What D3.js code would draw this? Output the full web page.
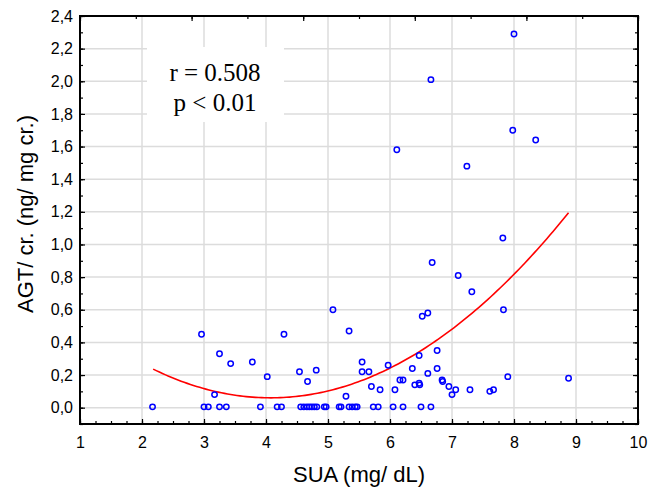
<!DOCTYPE html>
<html>
<head>
<meta charset="utf-8">
<script src="https://cdn.jsdelivr.net/npm/d3@7"></script>
<style>
  body { margin: 0; background: white; }
  svg { display: block; }
</style>
</head>
<body>
<div id="svgDiv"></div>
<script>
// SUA (mg/dL) and AGT/cr. (ng/mg cr.) pairs
var suaValues = [
  2.17, 3.00, 3.07, 3.25, 3.36, 3.91, 4.18, 4.25, 4.56, 4.61, 4.66, 4.70, 4.74, 4.78, 4.82,
  4.94, 4.97, 5.18, 5.21, 5.34, 5.39, 5.44, 5.47, 5.73, 5.81, 6.05, 6.21, 6.50, 6.66,
  2.96, 3.17, 3.25, 3.43, 3.78, 4.02, 4.29, 4.54, 4.67, 4.81, 5.08, 5.29, 5.34, 5.55, 5.55,
  5.66, 5.70, 5.84, 5.97, 6.08, 6.11, 6.16, 6.21, 6.36, 6.40, 6.47, 6.48, 6.47, 6.52, 6.61,
  6.61, 6.66, 6.68, 6.76, 6.76, 6.84, 6.85, 6.95, 7.00, 7.06, 7.10, 7.24, 7.29, 7.32, 7.61,
  7.67, 7.82, 7.83, 7.90, 7.98, 8.00, 8.35, 8.88
];
var agtValues = [
  0.005, 0.005, 0.005, 0.005, 0.005, 0.005, 0.005, 0.005, 0.005, 0.005, 0.005, 0.005, 0.005, 0.005, 0.005,
  0.005, 0.005, 0.005, 0.005, 0.005, 0.005, 0.005, 0.005, 0.005, 0.005, 0.005, 0.005, 0.005, 0.005,
  0.45, 0.08, 0.33, 0.27, 0.28, 0.19, 0.45, 0.22, 0.16, 0.23, 0.60, 0.07, 0.47, 0.28, 0.22,
  0.22, 0.13, 0.11, 0.26, 0.11, 1.58, 0.17, 0.17, 0.24, 0.14, 0.15, 0.14, 0.32, 0.56, 0.58,
  0.21, 2.01, 0.89, 0.35, 0.24, 0.17, 0.16, 0.13, 0.08, 0.11, 0.81, 1.48, 0.11, 0.71, 0.10,
  0.11, 1.04, 0.60, 0.19, 1.70, 2.29, 1.64, 0.18
];
// quadratic fit y = c0 + c1*x + c2*x^2, drawn over the SUA range
var fitCoef = [0.875, -0.400, 0.0491];
var fitRange = [2.18, 8.88];
var xTickValues = [1, 2, 3, 4, 5, 6, 7, 8, 9, 10];
var yTickValues = [0, 0.2, 0.4, 0.6, 0.8, 1.0, 1.2, 1.4, 1.6, 1.8, 2.0, 2.2, 2.4];
var statLines = ["r = 0.508", "p < 0.01"];
var xTitle = "SUA (mg/ dL)";
var yTitle = "AGT/ cr. (ng/ mg cr.)";

(function draw(){
  var width = 660, height = 488;
  var pLeft = 80, pRight = 638, pTop = 16, pBottom = 424;

  var x = d3.scaleLinear().domain([1, 10]).range([pLeft, pRight]);
  var y = d3.scaleLinear().domain([-0.1, 2.4]).range([pBottom, pTop]);
  var commaFmt = d3.formatLocale({decimal: ",", thousands: ".", grouping: [3], currency: ["", ""]}).format(".1f");

  var svg = d3.select("#svgDiv").append("svg")
              .attr("width", width)
              .attr("height", height)
              .style("font-family", "'Liberation Sans', Arial, sans-serif");

  //grid
  var grid = svg.append("g").attr("id", "gridGroup");
  grid.selectAll("line.vgrid").data(xTickValues.slice(1, -1)).enter().append("line")
      .attr("class", "vgrid")
      .attr("x1", d => x(d)).attr("x2", d => x(d))
      .attr("y1", pTop).attr("y2", pBottom)
      .attr("stroke", "#dcdcdc").attr("stroke-width", 1.5);
  grid.selectAll("line.hgrid").data(yTickValues.slice(0, -1)).enter().append("line")
      .attr("class", "hgrid")
      .attr("x1", pLeft).attr("x2", pRight)
      .attr("y1", d => y(d)).attr("y2", d => y(d))
      .attr("stroke", "#dcdcdc").attr("stroke-width", 1.5);

  //white box behind the stats text
  svg.append("rect")
     .attr("x", 147).attr("y", 47)
     .attr("width", 137).attr("height", 75)
     .attr("fill", "white");
  svg.append("g").attr("id", "statGroup")
     .selectAll("text").data(statLines).enter().append("text")
       .attr("x", 215)
       .attr("y", (d, i) => 81 + i * 30)
       .attr("text-anchor", "middle")
       .style("font-family", "'Liberation Serif', 'Times New Roman', serif")
       .style("font-size", "25px")
       .text(d => d);

  //fit curve
  var fitX = d3.range(fitRange[0], fitRange[1], 0.05).concat([fitRange[1]]);
  var line = d3.line()
               .x(d => x(d))
               .y(d => y(fitCoef[0] + fitCoef[1] * d + fitCoef[2] * d * d));
  svg.append("path")
     .datum(fitX)
     .attr("d", line)
     .attr("fill", "none")
     .attr("stroke", "#ff0000")
     .attr("stroke-width", 1.6);

  //points
  svg.append("g").attr("id", "pointGroup")
     .selectAll("circle").data(suaValues).enter().append("circle")
       .attr("cx", d => x(d))
       .attr("cy", (d, i) => y(agtValues[i]))
       .attr("r", 2.7)
       .attr("fill", "none")
       .attr("stroke", "#0000ff")
       .attr("stroke-width", 1.5);

  //axes: major ticks with labels, minor ticks without
  var minorX = d3.range(1, 10.01, 0.25);
  var minorY = d3.range(-0.1, 2.401, 0.1);
  var topScale = d3.scaleLinear().domain([0, 10]).range([pLeft, pRight]);

  svg.append("g").attr("transform", "translate(0," + pBottom + ")")
     .call(d3.axisBottom(x).tickValues(minorX).tickSize(-3).tickFormat(""));
  svg.append("g").attr("id", "xAxis").attr("transform", "translate(0," + pBottom + ")")
     .call(d3.axisBottom(x).tickValues(xTickValues).tickSize(-5).tickPadding(13).tickFormat(d3.format("d")));
  svg.append("g").attr("transform", "translate(" + pLeft + ",0)")
     .call(d3.axisLeft(y).tickValues(minorY).tickSize(-3).tickFormat(""));
  svg.append("g").attr("id", "yAxis").attr("transform", "translate(" + pLeft + ",0)")
     .call(d3.axisLeft(y).tickValues(yTickValues).tickSize(-5).tickPadding(7).tickFormat(commaFmt));
  svg.append("g").attr("transform", "translate(0," + pTop + ")")
     .call(d3.axisTop(topScale).tickValues(d3.range(0, 11)).tickSize(-3).tickFormat(""));
  svg.append("g").attr("transform", "translate(0," + pTop + ")")
     .call(d3.axisTop(topScale).tickValues(d3.range(0, 11, 2)).tickSize(-5).tickFormat(""));
  svg.append("g").attr("transform", "translate(" + pRight + ",0)")
     .call(d3.axisRight(y).tickValues(minorY).tickSize(-3).tickFormat(""));
  svg.append("g").attr("transform", "translate(" + pRight + ",0)")
     .call(d3.axisRight(y).tickValues(yTickValues).tickSize(-5).tickFormat(""));

  svg.selectAll(".domain").remove();
  svg.selectAll(".tick line").attr("stroke", "black").attr("stroke-width", 1.2);
  svg.selectAll("#xAxis text, #yAxis text")
     .attr("fill", "black")
     .style("font-family", "'Liberation Sans', Arial, sans-serif")
     .style("font-size", "16px");

  //frame
  svg.append("rect")
     .attr("x", pLeft).attr("y", pTop)
     .attr("width", pRight - pLeft).attr("height", pBottom - pTop)
     .attr("fill", "none")
     .attr("stroke", "black")
     .attr("stroke-width", 2);

  //titles
  svg.append("text")
     .attr("x", (pLeft + pRight) / 2)
     .attr("y", 482)
     .attr("text-anchor", "middle")
     .style("font-size", "22px")
     .text(xTitle);
  svg.append("text")
     .attr("transform", "translate(33,214) rotate(-90)")
     .attr("text-anchor", "middle")
     .style("font-size", "22px")
     .text(yTitle);
})();
</script>
</body>
</html>
